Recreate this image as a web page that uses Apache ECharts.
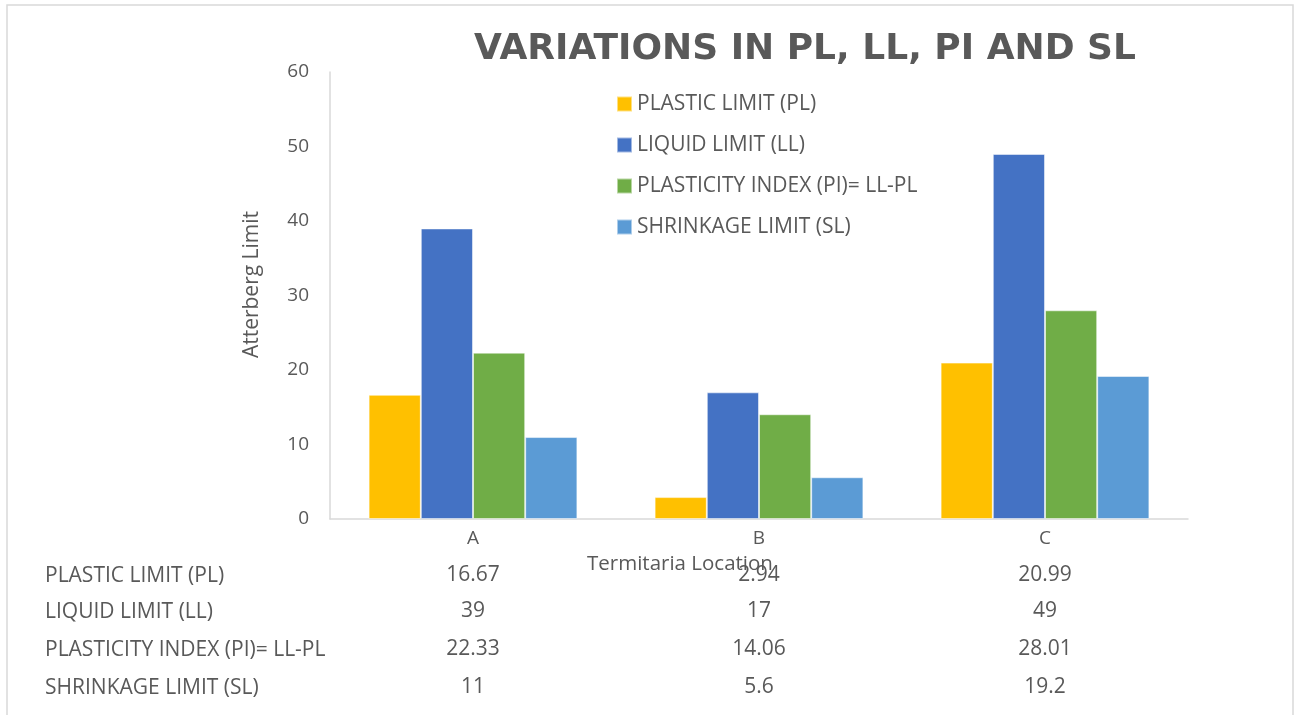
<!DOCTYPE html>
<html>
<head>
<meta charset="utf-8">
<script src="https://cdn.jsdelivr.net/npm/echarts@6/dist/echarts.min.js"></script>
<style>html,body{margin:0;padding:0;background:#fff}#c{width:1294px;height:715px}</style>
</head>
<body>
<div id="c"></div>
<script>
var categories = ['A', 'B', 'C'];
var seriesNames = ['PLASTIC LIMIT (PL)', 'LIQUID LIMIT (LL)', 'PLASTICITY INDEX (PI)= LL-PL', 'SHRINKAGE LIMIT (SL)'];
var plValues = [16.67, 2.94, 20.99];
var llValues = [39, 17, 49];
var piValues = [22.33, 14.06, 28.01];
var slValues = [11, 5.6, 19.2];
var tableLabels = [['16.67', '2.94', '20.99'], ['39', '17', '49'], ['22.33', '14.06', '28.01'], ['11', '5.6', '19.2']];
var colors = ['#FFC000', '#4472C4', '#70AD47', '#5B9BD5'];

var FONT = 'Open Sans';
var TXT = '#595959';
var allValues = [plValues, llValues, piValues, slValues];

var chart = echarts.init(document.getElementById('c'), null, {renderer: 'canvas'});

var gridLeft = 330, gridRight = 106, gridTop = 72, gridBottom = 196;
var xAxes = [{
  type: 'category', data: categories, gridIndex: 0,
  axisLine: {lineStyle: {color: '#d9d9d9', width: 1.5}},
  axisTick: {show: false},
  axisLabel: {color: TXT, fontFamily: FONT, fontSize: 19, margin: 10}
}];
var rowOffsets = [38, 74, 112, 150];
for (var r = 0; r < 4; r++) {
  xAxes.push({
    type: 'category', data: tableLabels[r], gridIndex: 0, position: 'bottom', offset: rowOffsets[r],
    axisLine: {show: false}, axisTick: {show: false}, splitLine: {show: false},
    axisLabel: {color: TXT, fontFamily: FONT, fontSize: 21, margin: 8}
  });
}

var series = seriesNames.map(function (n, i) {
  return {
    name: n, type: 'bar', data: allValues[i], xAxisIndex: 0,
    barGap: '0%', barCategoryGap: '27%',
    itemStyle: {color: colors[i], borderColor: 'rgba(255,255,255,0.5)', borderWidth: 1}
  };
});

var graphics = [{
  type: 'rect', shape: {x: 7, y: 5, width: 1286, height: 720},
  style: {fill: 'none', stroke: '#d9d9d9', lineWidth: 1.5}, silent: true
}, {
  type: 'text', x: 587, y: 564,
  style: {text: 'Termitaria Location', fill: TXT, font: '20.5px "' + FONT + '"', textAlign: 'left', textVerticalAlign: 'middle'}
}];
var rowY = [576, 612, 650, 688];
for (var k = 0; k < 4; k++) {
  graphics.push({
    type: 'text', x: 45, y: rowY[k],
    style: {text: seriesNames[k], fill: TXT, font: '21px "' + FONT + '"', textAlign: 'left', textVerticalAlign: 'middle'}
  });
}

chart.setOption({
  animation: false,
  backgroundColor: '#fff',
  title: {
    text: 'VARIATIONS IN PL, LL, PI AND SL',
    left: 800, top: 27, textAlign: 'center',
    textStyle: {color: TXT, fontFamily: 'DejaVu Sans', fontWeight: 'bold', fontSize: 36}
  },
  legend: {
    orient: 'vertical', left: 611, top: 88,
    itemWidth: 15, itemHeight: 15, itemGap: 19,
    icon: 'rect',
    textStyle: {color: TXT, fontFamily: FONT, fontSize: 21, lineHeight: 22}
  },
  grid: {left: gridLeft, right: gridRight, top: gridTop, bottom: gridBottom},
  xAxis: xAxes,
  yAxis: {
    type: 'value', min: 0, max: 60, interval: 10,
    name: 'Atterberg Limit', nameLocation: 'middle', nameGap: 67,
    nameTextStyle: {color: TXT, fontFamily: FONT, fontSize: 21, padding: [0, 0, 0, 22]},
    axisLine: {show: true, lineStyle: {color: '#d9d9d9', width: 1.5}},
    axisTick: {show: false},
    splitLine: {show: false},
    axisLabel: {color: TXT, fontFamily: FONT, fontSize: 19, margin: 21}
  },
  graphic: graphics,
  series: series
});
</script>
</body>
</html>
